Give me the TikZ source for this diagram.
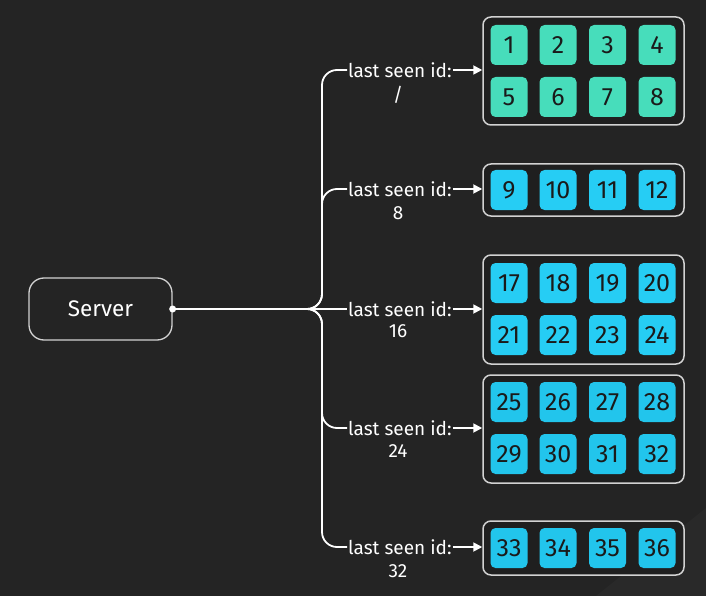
\documentclass[tikz,border=0pt]{standalone}
\usepackage{fontspec}
\setmainfont{Fira Sans}
\usetikzlibrary{arrows.meta}
\definecolor{bg}{HTML}{242424}
\definecolor{bgl}{HTML}{292929}
\definecolor{boxfill}{HTML}{1F1F1F}
\definecolor{boxline}{HTML}{D2D2D2}
\definecolor{mint}{HTML}{47DDBB}
\definecolor{cyanA}{HTML}{26CDF4}
\definecolor{cyanB}{HTML}{22C5EC}
\definecolor{numtxt}{HTML}{1A1A1A}
\tikzset{
  conn/.style={draw=white, line width=1.8pt},
  arr/.style={conn, -{Triangle[length=9pt,width=9pt]}},
  grp/.style={draw=boxline, line width=1.5pt, fill=boxfill, rounded corners=8pt, minimum width=201pt, inner sep=0pt},
  sq/.style={rounded corners=5pt, minimum width=37pt, minimum height=40pt, inner sep=0pt, text=numtxt, font=\fontsize{25}{25}\selectfont},
  lbl/.style={text=white, inner sep=1pt, font=\fontsize{19}{19}\selectfont},
}
\begin{document}
\begin{tikzpicture}[x=1pt,y=-1pt]
\fill[bg] (0,0) rectangle (706,596);
\fill[bgl] (596,596) -- (706,508) -- (706,596) -- cycle;
\useasboundingbox (0,0) rectangle (706,596);

% server
\node[draw=boxline, line width=1.3pt, rounded corners=15pt, minimum width=143pt, minimum height=62pt, text=white, font=\fontsize{22.5}{22.5}\selectfont] (srv) at (100.5,309) {Server};
\fill[white] (srv.east) circle (3.5pt);

% groups
\node[grp, minimum height=108pt] (g1) at (583.5,71) {};
\node[grp, minimum height=52pt] (g2) at (583.5,190) {};
\node[grp, minimum height=109pt] (g3) at (583.5,309.5) {};
\node[grp, minimum height=108pt] (g4) at (583.5,429) {};
\node[grp, minimum height=54pt] (g5) at (583.5,548) {};

% squares
\foreach \n/\x/\y/\c in {1/509/45/mint,2/558/45/mint,3/607.5/45/mint,4/657/45/mint,
  5/509/97/mint,6/558/97/mint,7/607.5/97/mint,8/657/97/mint,
  9/509/190/cyanA,10/558/190/cyanA,11/607.5/190/cyanA,12/657/190/cyanA,
  17/509/283/cyanA,18/558/283/cyanA,19/607.5/283/cyanA,20/657/283/cyanA,
  21/509/335/cyanA,22/558/335/cyanA,23/607.5/335/cyanA,24/657/335/cyanA,
  25/509/402/cyanB,26/558/402/cyanB,27/607.5/402/cyanB,28/657/402/cyanB,
  29/509/454/cyanB,30/558/454/cyanB,31/607.5/454/cyanB,32/657/454/cyanB,
  33/509/548/cyanB,34/558/548/cyanB,35/607.5/548/cyanB,36/657/548/cyanB}
  \node[sq, fill=\c] (s\n) at (\x,\y) {\n};

% labels
\foreach \i/\y/\v/\yy in {1/70/{/}/95, 2/189/8/213, 3/309/16/331, 4/428/24/451, 5/547/32/571}{
  \node[lbl, anchor=west] (l\i) at (347,\y) {last seen id:};
  \node[lbl] (v\i) at (398,\yy) {\v};
}

% connectors
\draw[conn, rounded corners=15pt] (srv.east) -- (322,309) |- (l1.west);
\draw[conn, rounded corners=15pt] (srv.east) -- (322,309) |- (l2.west);
\draw[conn] (srv.east) -- (l3.west);
\draw[conn, rounded corners=15pt] (srv.east) -- (322,309) |- (l4.west);
\draw[conn, rounded corners=15pt] (srv.east) -- (322,309) |- (l5.west);

\foreach \i in {1,...,5}
  \draw[arr] (l\i.east) -- (l\i.east -| g\i.west);
\end{tikzpicture}
\end{document}
